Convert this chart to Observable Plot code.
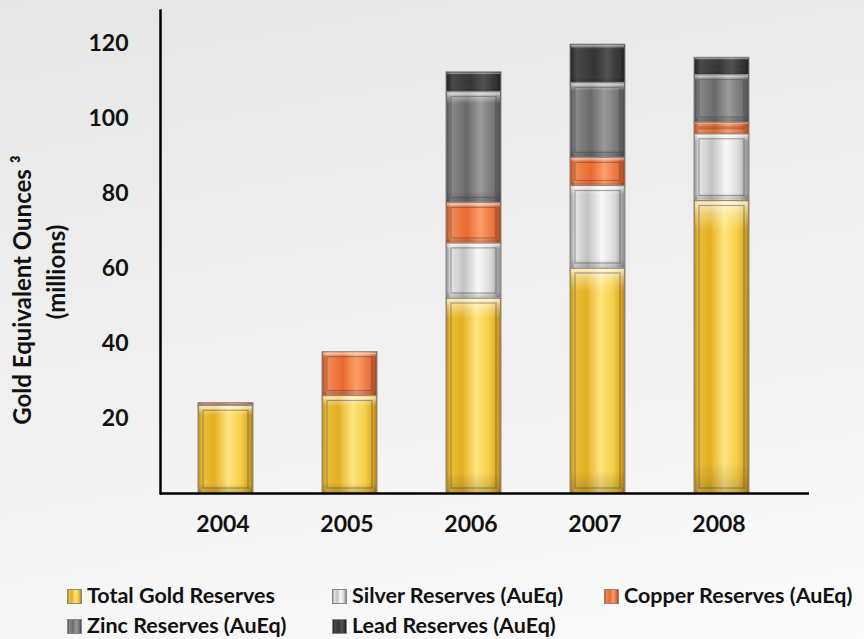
<!DOCTYPE html>
<html>
<head>
<meta charset="utf-8">
<script src="https://cdn.jsdelivr.net/npm/d3@7"></script>
<script src="https://cdn.jsdelivr.net/npm/@observablehq/plot@0.6"></script>
<style>
  html, body { margin: 0; padding: 0; }
  body {
    width: 864px; height: 639px; overflow: hidden; position: relative;
    background: linear-gradient(170deg, #e6e6e6 0%, #f1f1f1 55%, #fbfbfb 100%);
    font-family: Lato, "Open Sans", sans-serif;
  }
  #chart { position: absolute; left: 0; top: 0; }
  #legend {
    position: absolute; left: 67px; top: 581px;
    display: grid; grid-template-columns: 265px 272px auto; grid-auto-rows: 30px;
    align-items: center; font-weight: 700; font-size: 21.5px; line-height: 1; color: #111;
  }
  .item { display: flex; align-items: center; white-space: nowrap; }
  .sw { width: 15px; height: 15px; margin-right: 5px; box-sizing: border-box; border: 1px solid #888; }
  .gloss rect { fill: url(#g-gloss); }
</style>
</head>
<body>
<div id="chart"></div>
<div id="legend"></div>
<script>
// ---- data ----
const years = ["2004", "2005", "2006", "2007", "2008"];
const seriesNames = [
  "Total Gold Reserves",
  "Silver Reserves (AuEq)",
  "Copper Reserves (AuEq)",
  "Zinc Reserves (AuEq)",
  "Lead Reserves (AuEq)"
];
const gold   = [23.4, 26.0, 52.0, 60.0, 78.0];
const silver = [0.2,  0.0,  14.7, 22.0, 17.8];
const copper = [0.5,  11.7, 10.8, 7.5,  3.1];
const zinc   = [0.0,  0.0,  29.6, 20.0, 12.7];
const lead   = [0.0,  0.0,  5.2,  10.2, 4.6];
const yTicks = [20, 40, 60, 80, 100, 120];
const yLabel1 = "Gold Equivalent Ounces ³";
const yLabel2 = "(millions)";

// ---- styling ----
const gradIds = ["g-gold", "g-silver", "g-copper", "g-zinc", "g-lead"];
const gradStops = [
  [["0%","#b8861a"],["8%","#ecc03a"],["30%","#e4b025"],["55%","#ffe57f"],["78%","#f6cf48"],["93%","#d9a624"],["100%","#a97a12"]],
  [["0%","#8e8e8e"],["9%","#e6e6e6"],["32%","#c2c2c2"],["58%","#f8f8f8"],["82%","#d8d8d8"],["100%","#8a8a8a"]],
  [["0%","#b24a1e"],["10%","#f28a58"],["38%","#e8692f"],["62%","#ff9d6b"],["86%","#e8733f"],["100%","#a8441a"]],
  [["0%","#4e4e4e"],["10%","#8a8a8a"],["38%","#6a6a6a"],["62%","#9a9a9a"],["86%","#777777"],["100%","#4a4a4a"]],
  [["0%","#222222"],["12%","#484848"],["45%","#353535"],["68%","#525252"],["100%","#222222"]]
];

const rows = [];
const seriesValues = [gold, silver, copper, zinc, lead];
years.forEach((yr, i) => {
  seriesNames.forEach((s, k) => rows.push({year: yr, series: s, value: seriesValues[k][i]}));
});

const plot = Plot.plot({
  width: 864,
  height: 543,
  marginTop: 10,
  marginBottom: 50,
  marginLeft: 160,
  marginRight: 55,
  style: {background: "transparent", fontFamily: "Lato, 'Open Sans', sans-serif", color: "#111"},
  x: {domain: years, range: [161, 785], paddingInner: 0.56, paddingOuter: 0.28, label: null},
  y: {domain: [0, 128.8], label: null},
  color: {type: "ordinal", domain: seriesNames, range: gradIds.map(id => `url(#${id})`)},
  marks: [
    Plot.barY(rows, {x: "year", y: "value", fill: "series", stroke: "#8a8a8a", strokeWidth: 1}),
    Plot.barY(rows, {x: "year", y: "value", fill: "none", className: "gloss", inset: 1}),
    Plot.barY(rows, {x: "year", y: "value", fill: "none", stroke: "rgba(70,70,70,0.45)", strokeWidth: 1.2, inset: 5}),
    Plot.axisY({ticks: yTicks, tickSize: 0, tickPadding: 32, fontSize: 23, fontWeight: 700, label: null}),
    Plot.axisX({tickSize: 0, tickPadding: 22, fontSize: 23, fontWeight: 700, dx: -3, label: null}),
    Plot.frame({anchor: "left", stroke: "#000", strokeWidth: 2.5}),
    Plot.ruleY([0], {stroke: "#000", strokeWidth: 2.5}),
    Plot.text([yLabel1], {text: d => d, frameAnchor: "left", textAnchor: "middle", rotate: -90, dx: -137, dy: 38, fontSize: 24, fontWeight: 700, fill: "#111"}),
    Plot.text([yLabel2], {text: d => d, frameAnchor: "left", textAnchor: "middle", rotate: -90, dx: -103, dy: 20, fontSize: 24, fontWeight: 700, fill: "#111"})
  ]
});

// gradient defs
const svgNS = "http://www.w3.org/2000/svg";
const defs = document.createElementNS(svgNS, "defs");
function addGradient(id, stops, vertical) {
  const lg = document.createElementNS(svgNS, "linearGradient");
  lg.setAttribute("id", id);
  lg.setAttribute("x1", "0"); lg.setAttribute("y1", "0");
  lg.setAttribute("x2", vertical ? "0" : "1"); lg.setAttribute("y2", vertical ? "1" : "0");
  stops.forEach(([off, col, op]) => {
    const st = document.createElementNS(svgNS, "stop");
    st.setAttribute("offset", off);
    st.setAttribute("stop-color", col);
    if (op !== undefined) st.setAttribute("stop-opacity", op);
    lg.appendChild(st);
  });
  defs.appendChild(lg);
}
gradIds.forEach((id, k) => addGradient(id, gradStops[k], false));
addGradient("g-gloss", [["0%","#ffffff",0.75],["4%","#ffffff",0.35],["10%","#ffffff",0],["90%","#000000",0],["100%","#000000",0.18]], true);
plot.insertBefore(defs, plot.firstChild);
document.getElementById("chart").appendChild(plot);

// legend
const legend = document.getElementById("legend");
seriesNames.forEach((s, k) => {
  const it = document.createElement("div");
  it.className = "item";
  const sw = document.createElement("span");
  sw.className = "sw";
  sw.style.background = `linear-gradient(90deg, ${gradStops[k].map(([o, c]) => c + " " + o).join(", ")})`;
  const tx = document.createElement("span");
  tx.textContent = s;
  it.appendChild(sw); it.appendChild(tx);
  legend.appendChild(it);
});
</script>
</body>
</html>
